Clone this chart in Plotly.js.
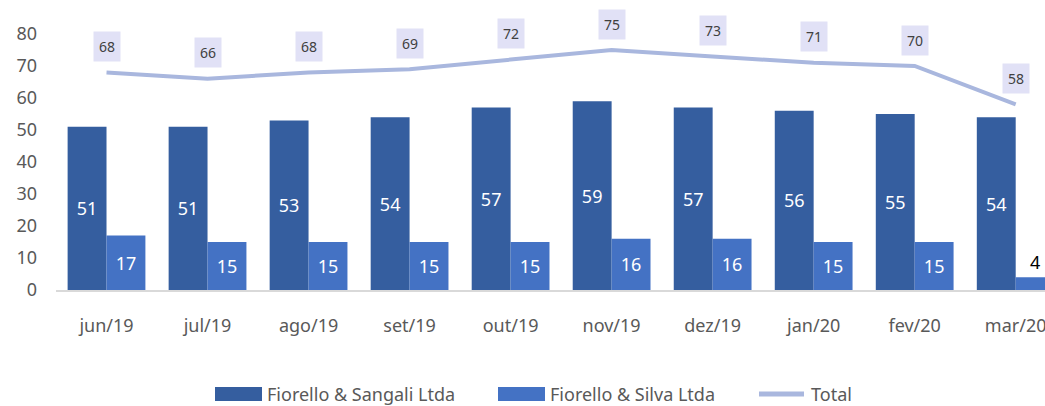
<!DOCTYPE html>
<html>
<head>
<meta charset="utf-8">
<script src="https://cdn.plot.ly/plotly-3.0.1.min.js"></script>
<style>html,body{margin:0;padding:0;background:#fff;}#chart{width:1045px;height:406px;}</style>
</head>
<body>
<div id="chart"></div>
<script>
var categories = ["jun/19","jul/19","ago/19","set/19","out/19","nov/19","dez/19","jan/20","fev/20","mar/20"];
var sangali = [51,51,53,54,57,59,57,56,55,54];
var silva = [17,15,15,15,15,16,16,15,15,4];
var total = [68,66,68,69,72,75,73,71,70,58];
var seriesNames = ["Fiorello & Sangali Ltda", "Fiorello & Silva Ltda", "Total"];
var seriesColors = ["#355E9F", "#4472C4", "#A9B7DE"];

var fontFam = "'Noto Sans', 'Open Sans', sans-serif";

var traces = [
  {type:'bar', name:seriesNames[0], x:categories, y:sangali,
   marker:{color:seriesColors[0]}, text:sangali.map(String), textposition:'inside',
   insidetextanchor:'middle', textangle:0,
   insidetextfont:{color:'#ffffff', size:18, family:fontFam}, hoverinfo:'none'},
  {type:'bar', name:seriesNames[1], x:categories, y:silva,
   marker:{color:seriesColors[1]}, text:silva.map(String), textposition:'auto',
   insidetextanchor:'middle', textangle:0, cliponaxis:false,
   insidetextfont:{color:'#ffffff', size:18, family:fontFam},
   outsidetextfont:{color:'#000000', size:18, family:fontFam}, hoverinfo:'none'},
  {type:'scatter', mode:'lines', name:seriesNames[2], x:categories, y:total,
   line:{color:seriesColors[2], width:4}, hoverinfo:'none', cliponaxis:false}
];

var annotations = categories.map(function(c,i){
  return {x:c, y:total[i], xref:'x', yref:'y', text:String(total[i]), showarrow:false,
    yshift:26, bgcolor:'#E1E1F6', borderpad:5,
    font:{family:fontFam, size:14, color:'#404040'}};
});

// Custom legend (layout geometry in pixels converted to paper coordinates)
var L = 56, W = 989, B = 290, H = 256;
function px(x){ return (x - L) / W; }
function py(y){ return (B - y) / H; }
var legendItems = [
  {sx0:215, sx1:262, tx:265, kind:'rect'},
  {sx0:498, sx1:545, tx:548, kind:'rect'},
  {sx0:757, sx1:806, tx:809, kind:'line'}
];
var legendY = 394;
var shapes = [];
legendItems.forEach(function(it, i){
  if (it.kind === 'rect') {
    shapes.push({type:'rect', xref:'paper', yref:'paper', x0:px(it.sx0), x1:px(it.sx1),
      y0:py(legendY + 7), y1:py(legendY - 7), fillcolor:seriesColors[i], line:{width:0}});
  } else {
    shapes.push({type:'line', xref:'paper', yref:'paper', x0:px(it.sx0 + 2), x1:px(it.sx1 - 2),
      y0:py(legendY), y1:py(legendY), line:{color:seriesColors[i], width:5}});
  }
  annotations.push({xref:'paper', yref:'paper', x:px(it.tx), y:py(legendY), xanchor:'left', yanchor:'middle',
    text:seriesNames[i], showarrow:false, font:{family:fontFam, size:18, color:'#595959'}});
});

var layout = {
  width:1045, height:406,
  margin:{l:56, r:0, t:34, b:116, autoexpand:false},
  paper_bgcolor:'#ffffff', plot_bgcolor:'#ffffff',
  barmode:'group', bargap:0.23, bargroupgap:0,
  font:{family:fontFam, color:'#595959', size:18},
  xaxis:{range:[-0.5, 9.29], showgrid:false, zeroline:false, showline:true,
    linecolor:'#D9D9D9', linewidth:2, ticks:'', ticklabelstandoff:18,
    tickfont:{size:18, color:'#595959', family:fontFam}, fixedrange:true},
  yaxis:{range:[0,80], dtick:10, showgrid:false, zeroline:false, showline:false,
    ticks:'', ticklabelstandoff:18, tickfont:{size:18, color:'#595959', family:fontFam}},
  showlegend:false,
  shapes:shapes,
  annotations:annotations
};

Plotly.newPlot('chart', traces, layout, {displayModeBar:false, staticPlot:true});
</script>
</body>
</html>
